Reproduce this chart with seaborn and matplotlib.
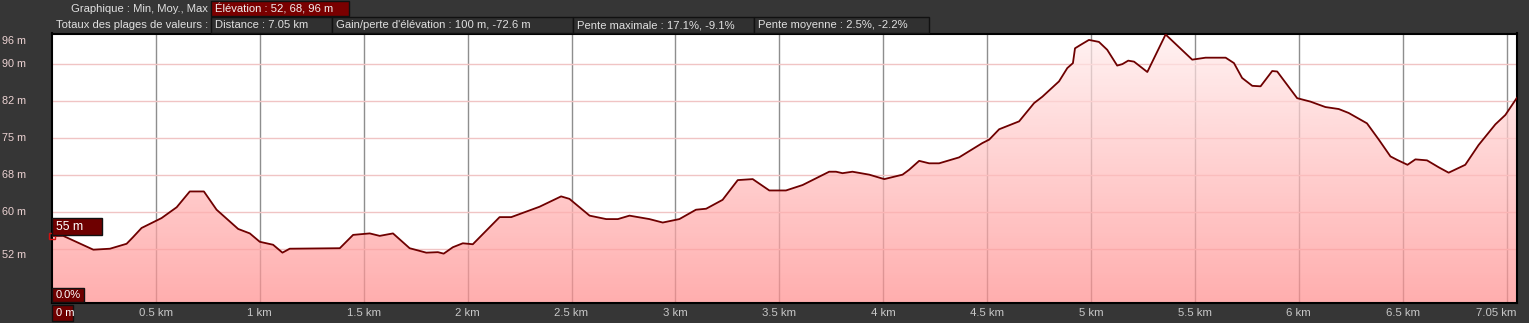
import numpy as np
import pandas as pd
import matplotlib
matplotlib.use("Agg")
import matplotlib.pyplot as plt
from matplotlib.patches import Rectangle
import seaborn as sns

# ---- data ----
dist_km = [0.0, 0.054, 0.199, 0.279, 0.359, 0.389, 0.431, 0.527, 0.600, 0.663, 0.731,
           0.792, 0.896, 0.952, 1.000, 1.064, 1.109, 1.144, 1.385, 1.449, 1.529, 1.577,
           1.641, 1.721, 1.801, 1.857, 1.885, 1.929, 1.977, 2.025, 2.154, 2.210, 2.346,
           2.450, 2.490, 2.587, 2.667, 2.723, 2.779, 2.875, 2.939, 3.019, 3.099, 3.148,
           3.227, 3.300, 3.372, 3.452, 3.532, 3.612, 3.740, 3.773, 3.804, 3.852, 3.933,
           4.005, 4.093, 4.125, 4.173, 4.221, 4.269, 4.365, 4.477, 4.510, 4.558, 4.654,
           4.726, 4.766, 4.846, 4.886, 4.913, 4.923, 4.950, 4.990, 5.038, 5.078, 5.126,
           5.151, 5.179, 5.207, 5.271, 5.359, 5.487, 5.551, 5.648, 5.688, 5.727, 5.776,
           5.816, 5.872, 5.896, 5.992, 6.056, 6.128, 6.192, 6.240, 6.328, 6.385, 6.441,
           6.473, 6.523, 6.561, 6.617, 6.673, 6.721, 6.801, 6.865, 6.946, 6.994, 7.05]
elev_m = [55.2, 55.2, 52.4, 52.6, 53.6, 54.9, 56.8, 58.8, 61.0, 64.2, 64.2,
          60.5, 56.6, 55.7, 54.0, 53.4, 51.8, 52.6, 52.7, 55.4, 55.7, 55.2,
          55.7, 52.7, 51.8, 51.9, 51.6, 52.9, 53.7, 53.5, 59.0, 59.0, 61.1,
          63.2, 62.7, 59.3, 58.6, 58.6, 59.3, 58.6, 57.9, 58.6, 60.5, 60.7,
          62.5, 66.5, 66.7, 64.4, 64.4, 65.5, 68.2, 68.2, 67.9, 68.2, 67.6,
          66.7, 67.6, 68.6, 70.4, 69.9, 69.9, 71.1, 74.0, 74.7, 76.8, 78.4,
          82.1, 83.4, 86.5, 89.2, 90.2, 93.2, 93.9, 94.9, 94.5, 92.9, 89.7,
          90.0, 90.7, 90.5, 88.4, 96.0, 90.9, 91.3, 91.3, 90.2, 87.2, 85.6,
          85.5, 88.6, 88.5, 83.1, 82.4, 81.3, 80.9, 80.1, 78.0, 74.7, 71.3,
          70.6, 69.6, 70.7, 70.5, 69.1, 68.0, 69.6, 73.6, 77.8, 79.7, 83.2]

ygrid_vals = [52.5, 60, 67.5, 75, 82.5, 90]
ylabel_vals = [94.7, 90, 82.5, 75, 67.5, 60, 51.4]
ylabel_txt = ["96 m", "90 m", "82 m", "75 m", "68 m", "60 m", "52 m"]
xgrid_vals = [0.5, 1, 1.5, 2, 2.5, 3, 3.5, 4, 4.5, 5, 5.5, 6, 6.5, 7.0]
xlabel_txt = ["0.5 km", "1 km", "1.5 km", "2 km", "2.5 km", "3 km", "3.5 km",
              "4 km", "4.5 km", "5 km", "5.5 km", "6 km", "6.5 km"]
end_label = "7.05 km"

header1_label = "Graphique : Min, Moy., Max"
header1_box = "Élévation : 52, 68, 96 m"
header2_label = "Totaux des plages de valeurs :"
header2_boxes = ["Distance : 7.05 km", "Gain/perte d'élévation : 100 m, -72.6 m",
                 "Pente maximale : 17.1%, -9.1%", "Pente moyenne : 2.5%, -2.2%"]
start_elev_txt = "55 m"
start_slope_txt = "0.0%"
start_dist_txt = "0 m"

# ---- figure ----
W, H = 1529, 323
sns.set_theme(style="white")
plt.rcParams['font.family'] = ['Liberation Sans', 'DejaVu Sans']
fig = plt.figure(figsize=(W / 100, H / 100), dpi=100)
fig.patch.set_facecolor("#363636")

def fx(px):
    return px / W

def fy(py):
    return 1 - py / H

XMIN, XMAX = 0.0, 7.05
YMIN, YMAX = 41.6, 96.2
ax_l, ax_r, ax_t, ax_b = 52, 1517, 33.5, 303
ax = fig.add_axes([fx(ax_l), fy(ax_b), fx(ax_r) - fx(ax_l), fy(ax_t) - fy(ax_b)])
ax.set_facecolor("white")

# grid
for gx in xgrid_vals:
    ax.axvline(gx, color="#8e8e8e", lw=1.0, zorder=0.5)
for gy in ygrid_vals:
    ax.axhline(gy, color="#f0c4c4", lw=1.0, zorder=0.6)

# gradient fill under curve (semi-transparent so grid shows through)
alpha = 0.72
top_t = np.array([255, 242, 242]) / 255.0
bot_t = np.array([255, 174, 174]) / 255.0
n = 256
t = np.linspace(0, 1, n)[:, None]  # 0 bottom -> 1 top
target = bot_t[None, :] * (1 - t) + top_t[None, :] * t
col = (target - (1 - alpha)) / alpha
col = np.clip(col, 0, 1)
rgba = np.zeros((n, 1, 4))
rgba[:, 0, :3] = col
rgba[:, 0, 3] = alpha
im = ax.imshow(rgba, extent=[XMIN, XMAX, YMIN, YMAX], origin="lower",
               aspect="auto", zorder=1, interpolation="bilinear")
poly = ax.fill_between(dist_km, elev_m, YMIN, facecolor="none", edgecolor="none")
im.set_clip_path(poly.get_paths()[0], transform=ax.transData)

df = pd.DataFrame({"dist": dist_km, "elev": elev_m})
sns.lineplot(data=df, x="dist", y="elev", ax=ax, color="#6e0000", lw=1.3,
             zorder=3, estimator=None, sort=False)

ax.set_xlim(XMIN, XMAX)
ax.set_ylim(YMIN, YMAX)
ax.set_xticks([])
ax.set_yticks([])
ax.set_xlabel("")
ax.set_ylabel("")
for s in ax.spines.values():
    s.set_color("black")
    s.set_linewidth(1.5)

# start marker
ax.plot([dist_km[0]], [elev_m[0]], marker="s", ms=5, mfc="none", mec="#d01010",
        mew=1.0, zorder=4, clip_on=False)

# y labels
for v, txt in zip(ylabel_vals, ylabel_txt):
    ax.text(-50 / (ax_r - ax_l) * (XMAX - XMIN) + XMIN, v, txt, color="#ecd2d2",
            fontsize=7.8, ha="left", va="center", clip_on=False)

# x labels
for v, txt in zip(xgrid_vals[:-1], xlabel_txt):
    fig.text(fx(ax_l + v * (ax_r - ax_l) / XMAX), fy(313), txt, color="#c8c8c8",
             fontsize=8.2, ha="center", va="center")
fig.text(fx(1517), fy(313), end_label, color="#c8c8c8", fontsize=8.2,
         ha="right", va="center")

# boxes
def fig_box(x0, y0, x1, y1, fc, ec="#111111", lw=1.0):
    r = Rectangle((fx(x0), fy(y1)), fx(x1) - fx(x0), fy(y0) - fy(y1),
                  transform=fig.transFigure, facecolor=fc, edgecolor=ec, lw=lw,
                  zorder=10)
    fig.add_artist(r)

def box_text(x0, y0, x1, y1, txt, fc, color="white", fs=8.1, ec="#111111"):
    fig_box(x0, y0, x1, y1, fc, ec)
    fig.text(fx(x0 + 4), fy((y0 + y1) / 2), txt, color=color, fontsize=fs,
             ha="left", va="center", zorder=11)

# header row 1
fig.text(fx(208), fy(8.5), header1_label, color="#e0e0e0", fontsize=8.1,
         ha="right", va="center")
box_text(211, 1, 349, 16, header1_box, "#7a0000", color="#f0f0f0")

# header row 2
fig.text(fx(208), fy(25), header2_label, color="#e0e0e0", fontsize=8.1,
         ha="right", va="center")
edges = [211, 332, 573, 754, 929]
for i, txt in enumerate(header2_boxes):
    box_text(edges[i], 17, edges[i + 1], 33, txt, "#303030", color="#e0e0e0")

# start annotations
box_text(52, 218, 102, 235, start_elev_txt, "#6e0000", color="white", fs=8.8)
box_text(52, 288, 84, 302, start_slope_txt, "#6e0000", color="white", fs=8.0)
box_text(52, 305, 73, 321, start_dist_txt, "#6e0000", color="white", fs=8.0)

fig.savefig("out.png", dpi=100, facecolor=fig.get_facecolor())
